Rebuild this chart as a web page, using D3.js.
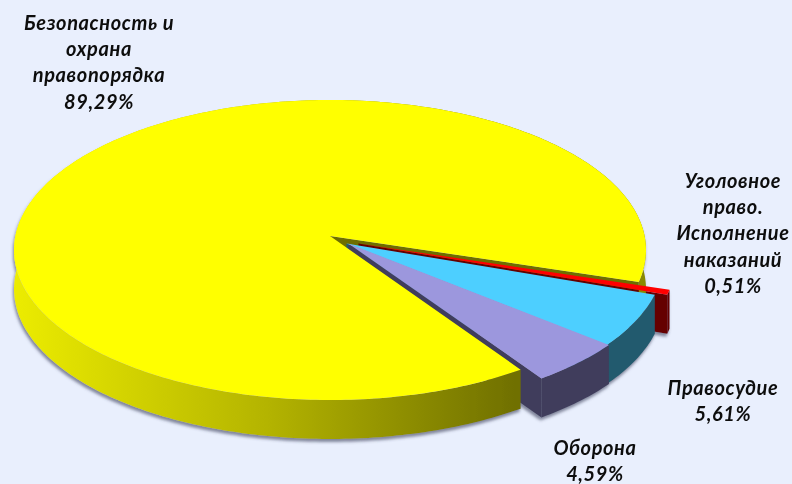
<!DOCTYPE html>
<html><head><meta charset="utf-8">
<script src="https://cdn.jsdelivr.net/npm/d3@7"></script>
<style>html,body{margin:0;padding:0;background:#e9effd;overflow:hidden}svg{display:block}
text{font-family:Lato,sans-serif;font-style:italic;font-weight:700;font-size:20px;letter-spacing:.6px;fill:#111}</style>
</head><body><svg id="c" width="792" height="484"></svg>
<script>
const categories=["Безопасность и охрана правопорядка","Уголовное право. Исполнение наказаний","Правосудие","Оборона"];
const values=[89.29,0.51,5.61,4.59];
const topColors=["#ffff00","#ff0000","#4dcfff","#9c97dd"];
const sideColors=["url(#ySide)","#650000","#235a6e","#3f3d5c"];
const wallColors=["#6e6e00","#650000","#235a6e","#3f3d5c"];
const labelLines=[["Безопасность и","охрана","правопорядка","89,29%"],["Уголовное","право.","Исполнение","наказаний","0,51%"],["Правосудие","5,61%"],["Оборона","4,59%"]];

const W=792,H=484,cx=330,cy=250,rx=316,ry=150,k=0.093,depth=39;
const shiftU=[0,0.09,0.052,0.058],shiftV=[0,0.05,0.05,0.05];
const labelCenters=[[99,30],[733,188],[723,395],[595,455]];
const labelStep=26.2;
const svg=d3.select("#c");
const defs=svg.append("defs");
const g=defs.append("linearGradient").attr("id","ySide").attr("gradientUnits","userSpaceOnUse")
 .attr("x1",14).attr("x2",645).attr("y1",0).attr("y2",0);
[[0,"#ecec00"],[0.4,"#b4b400"],[0.8,"#6f6f00"],[1,"#8a8a00"]].forEach(s=>g.append("stop").attr("offset",s[0]).attr("stop-color",s[1]));
const f=defs.append("filter").attr("id","sh").attr("x","-5%").attr("y","-5%").attr("width","110%").attr("height","115%");
f.append("feDropShadow").attr("dx",-1).attr("dy",3).attr("stdDeviation",1.6).attr("flood-color","#3a3f5a").attr("flood-opacity",.6);
const tb=defs.append("filter").attr("id","soft");
tb.append("feGaussianBlur").attr("stdDeviation",.35);

svg.append("rect").attr("width",W).attr("height",H).attr("fill","#e9effd");

// disc plane (u,v) -> screen, a projective map of the unit circle onto the ellipse
function project(u,v){
 const d=1-k*v;
 return [cx+rx*u*Math.sqrt(1-k*k)/d, cy+ry*(v-k)/d];
}
const startDeg=146;
const pie=d3.pie().sort(null).startAngle(startDeg*Math.PI/180).endAngle((startDeg+360)*Math.PI/180);
const arcs=pie(values);
const slices=arcs.map((a,i)=>{
 const a0=a.startAngle-Math.PI/2,a1=a.endAngle-Math.PI/2;
 const n=Math.max(2,Math.ceil((a1-a0)*60));
 const pts=d3.range(n+1).map(j=>{const t=a0+(a1-a0)*j/n;return project(shiftU[i]+Math.cos(t),shiftV[i]+Math.sin(t));});
 return {i,apex:project(shiftU[i],shiftV[i]),pts};
});
const line=d3.line();
const down=p=>[p[0],p[1]+depth];
const pie3d=svg.append("g").attr("filter","url(#sh)");
const quad=(a,b)=>line([a,b,down(b),down(a)])+"Z";
const rim=s=>line(s.pts.concat(s.pts.map(down).reverse()))+"Z";
const y=slices[0],rest=slices.slice(1);
// back to front: yellow upper cut wall, exploded cut walls, yellow rim and top, exploded rims and tops
pie3d.append("path").attr("d",quad(y.apex,y.pts[y.pts.length-1])).attr("fill",wallColors[0]);
rest.forEach(s=>pie3d.append("path").attr("d",quad(s.apex,s.pts[s.pts.length-1])).attr("fill",wallColors[s.i]));
pie3d.append("path").attr("d",rim(y)).attr("fill",sideColors[0]);
pie3d.append("path").attr("d",line([y.apex].concat(y.pts))+"Z").attr("fill",topColors[0]);
rest.forEach(s=>pie3d.append("path").attr("d",rim(s)).attr("fill",sideColors[s.i]));
rest.forEach(s=>pie3d.append("path").attr("d",line([s.apex].concat(s.pts))+"Z").attr("fill",topColors[s.i]));
// labels
labelLines.forEach((ls,i)=>{
 const t=svg.append("text").attr("filter","url(#soft)").attr("text-anchor","middle");
 ls.forEach((l,j)=>t.append("tspan").attr("x",labelCenters[i][0]).attr("y",labelCenters[i][1]+j*labelStep).text(l));
});
</script></body></html>
